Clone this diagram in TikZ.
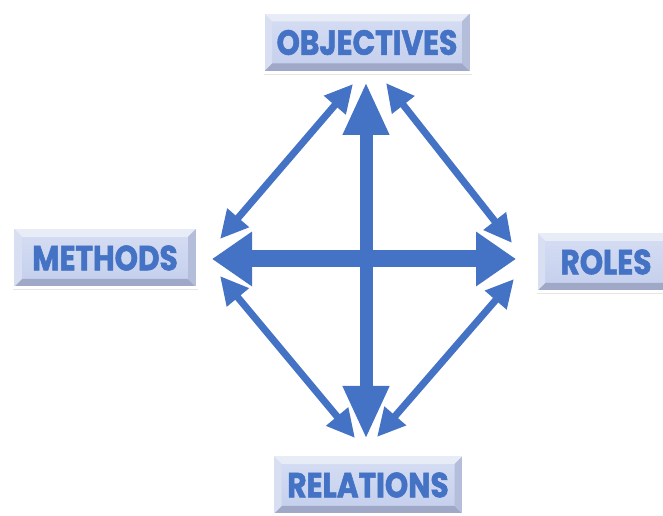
\documentclass[tikz,border=0pt]{standalone}
\usepackage{fontspec}
\usetikzlibrary{arrows.meta,shadows}
\newfontfamily\labelfont{Poppins}[FakeStretch=0.85, BoldFeatures={FakeBold=1.6}]

\definecolor{arrowblue}{HTML}{4472C4}
\definecolor{facetop}{HTML}{D6DEF3}
\definecolor{facebot}{HTML}{C3CEEC}
\definecolor{bevtop}{HTML}{E8ECF7}
\definecolor{bevleft}{HTML}{D9DFF2}
\definecolor{bevright}{HTML}{B4BEDB}
\definecolor{bevbot}{HTML}{9FA9C7}

\tikzset{
  labelbox/.style={rectangle, minimum height=60bp, inner sep=0pt,
    top color=facetop, bottom color=facebot,
    draw=white, line width=3bp,
    drop shadow={opacity=0.2, shadow xshift=0.5bp, shadow yshift=-2.5bp},
    text=arrowblue, font=\labelfont\bfseries\fontsize{35}{35}\selectfont,
    path picture={
      \fill[bevtop] (path picture bounding box.north west) -- (path picture bounding box.north east)
        -- ([shift={(-9bp,-9bp)}]path picture bounding box.north east) -- ([shift={(9bp,-9bp)}]path picture bounding box.north west) -- cycle;
      \fill[bevbot] (path picture bounding box.south west) -- (path picture bounding box.south east)
        -- ([shift={(-9bp,9bp)}]path picture bounding box.south east) -- ([shift={(9bp,9bp)}]path picture bounding box.south west) -- cycle;
      \fill[bevleft] (path picture bounding box.north west) -- ([shift={(9bp,-9bp)}]path picture bounding box.north west)
        -- ([shift={(9bp,9bp)}]path picture bounding box.south west) -- (path picture bounding box.south west) -- cycle;
      \fill[bevright] (path picture bounding box.north east) -- ([shift={(-9bp,-9bp)}]path picture bounding box.north east)
        -- ([shift={(-9bp,9bp)}]path picture bounding box.south east) -- (path picture bounding box.south east) -- cycle;
    }},
  bigarrow/.style={draw=arrowblue, line width=13bp, {Triangle[length=53bp,width=43bp]}-{Triangle[length=53bp,width=43bp]}},
  widearrow/.style={draw=arrowblue, line width=17bp, {Triangle[length=40bp,width=52bp]}-{Triangle[length=40bp,width=52bp]}},
  thinarrow/.style={draw=arrowblue, line width=7bp, {Triangle[length=28bp,width=27bp]}-{Triangle[length=28bp,width=27bp]}}
}

\begin{document}
\begin{tikzpicture}[x=1bp, y=1bp]
  \useasboundingbox (0,0) rectangle (663,516);

  % the four labels
  \node[labelbox, minimum width=208bp] (objectives) at (367,473.5) {OBJECTIVES};
  \node[labelbox, minimum width=184bp] (methods) at (105,258) {METHODS};
  \node[labelbox, minimum width=140bp] (roles) at (606,254) {ROLES};
  \node[labelbox, minimum width=191bp] (relations) at (368,31) {RELATIONS};

  % tips of the cross
  \coordinate (tip-n) at (366,434);
  \coordinate (tip-s) at (366,77);
  \coordinate (tip-w) at (212,257);
  \coordinate (tip-e) at (516,257);

  \draw[bigarrow] (tip-s) -- (tip-n);
  \draw[widearrow] (tip-w) -- (tip-e);

  % sides of the diamond
  \draw[thinarrow] ([shift={(-13,-2)}]tip-n) -- ([shift={(8,20)}]tip-w);
  \draw[thinarrow] ([shift={(20,-1)}]tip-n) -- ([shift={(-4,16)}]tip-e);
  \draw[thinarrow] ([shift={(8,-17)}]tip-w) -- ([shift={(-11,1)}]tip-s);
  \draw[thinarrow] ([shift={(-2,-20)}]tip-e) -- ([shift={(11,2)}]tip-s);
\end{tikzpicture}
\end{document}
